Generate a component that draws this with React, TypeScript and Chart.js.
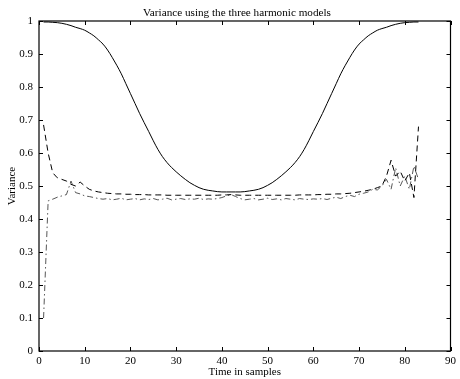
import React, { useEffect, useRef } from "react";
import { Chart, registerables } from "chart.js";

Chart.register(...registerables);

const samples = [
  1, 2, 3, 4, 5, 6, 7, 8, 9, 10, 11, 12, 13, 14, 15, 16, 17, 18, 19, 20,
  21, 22, 23, 24, 25, 26, 27, 28, 29, 30, 31, 32, 33, 34, 35, 36, 37, 38, 39, 40,
  41, 42, 43, 44, 45, 46, 47, 48, 49, 50, 51, 52, 53, 54, 55, 56, 57, 58, 59, 60,
  61, 62, 63, 64, 65, 66, 67, 68, 69, 70, 71, 72, 73, 74, 75, 76, 77, 78, 79, 80,
  81, 82, 83,
];

// solid line
const modelSolid = [
  0.997, 0.997, 0.996, 0.995, 0.993, 0.99, 0.986, 0.981, 0.977, 0.972,
  0.964, 0.955, 0.943, 0.93, 0.912, 0.89, 0.866, 0.84, 0.81, 0.78,
  0.75, 0.72, 0.692, 0.665, 0.637, 0.611, 0.589, 0.571, 0.556, 0.543,
  0.531, 0.52, 0.51, 0.502, 0.495, 0.49, 0.487, 0.485, 0.483, 0.482,
  0.482, 0.482, 0.482, 0.482, 0.483, 0.485, 0.487, 0.49, 0.495, 0.502,
  0.51, 0.52, 0.531, 0.543, 0.556, 0.571, 0.589, 0.611, 0.637, 0.665,
  0.692, 0.72, 0.75, 0.78, 0.81, 0.84, 0.866, 0.89, 0.912, 0.93,
  0.943, 0.955, 0.964, 0.972, 0.977, 0.981, 0.986, 0.99, 0.993, 0.995,
  0.996, 0.997, 0.997,
];

// dashed line
const modelDashed = [
  0.685, 0.6, 0.54, 0.525, 0.52, 0.515, 0.505, 0.5, 0.512, 0.5,
  0.49, 0.485, 0.482, 0.48, 0.478, 0.477, 0.476, 0.476, 0.475, 0.475,
  0.474, 0.474, 0.474, 0.473, 0.473, 0.473, 0.473, 0.472, 0.472, 0.472,
  0.472, 0.472, 0.472, 0.472, 0.472, 0.472, 0.472, 0.472, 0.472, 0.473,
  0.473, 0.474, 0.473, 0.472, 0.472, 0.472, 0.472, 0.472, 0.472, 0.472,
  0.472, 0.472, 0.472, 0.472, 0.472, 0.472, 0.473, 0.473, 0.473, 0.473,
  0.474, 0.474, 0.475, 0.475, 0.476, 0.476, 0.477, 0.478, 0.48, 0.482,
  0.484, 0.487, 0.49, 0.495, 0.5, 0.53, 0.578, 0.53, 0.545, 0.515,
  0.54, 0.465, 0.68,
];

// dash-dot line
const modelDashDot = [
  0.1, 0.455, 0.46, 0.466, 0.47, 0.474, 0.515, 0.48, 0.476, 0.47,
  0.468, 0.465, 0.462, 0.46, 0.462, 0.458, 0.46, 0.463, 0.458, 0.46,
  0.462, 0.458, 0.461, 0.459, 0.462, 0.458, 0.46, 0.463, 0.458, 0.46,
  0.462, 0.459, 0.461, 0.46, 0.463, 0.459, 0.461, 0.46, 0.462, 0.465,
  0.47, 0.474, 0.468, 0.462, 0.458, 0.46, 0.462, 0.458, 0.46, 0.463,
  0.459, 0.461, 0.458, 0.462, 0.46, 0.458, 0.462, 0.46, 0.459, 0.461,
  0.46, 0.462, 0.459, 0.463, 0.466, 0.462, 0.468, 0.472, 0.468, 0.475,
  0.478, 0.482, 0.49, 0.488, 0.5, 0.52, 0.49, 0.555, 0.5, 0.53,
  0.49, 0.56, 0.52,
];

const xTickLabels = ["0", "10", "20", "30", "40", "50", "60", "70", "80", "90"];
const yTickLabels = ["0", "0.1", "0.2", "0.3", "0.4", "0.5", "0.6", "0.7", "0.8", "0.9", "1"];
const chartTitle = "Variance using the three harmonic models";

const FONT = "'Liberation Serif', 'Times New Roman', serif";

const framePlugin = {
  id: "matlabFrame",
  afterDatasetsDraw(chart: any) {
    const { ctx, chartArea, scales } = chart;
    const { left, right, top, bottom } = chartArea;
    const tl = 4;
    ctx.save();
    ctx.strokeStyle = "#000";
    ctx.lineWidth = 1.2;
    ctx.strokeRect(left, top, right - left, bottom - top);
    ctx.lineWidth = 1;
    ctx.beginPath();
    scales.x.ticks.forEach((t: any) => {
      const px = Math.round(scales.x.getPixelForValue(t.value)) + 0.5;
      ctx.moveTo(px, bottom);
      ctx.lineTo(px, bottom - tl);
      ctx.moveTo(px, top);
      ctx.lineTo(px, top + tl);
    });
    scales.y.ticks.forEach((t: any) => {
      const py = Math.round(scales.y.getPixelForValue(t.value)) + 0.5;
      ctx.moveTo(left, py);
      ctx.lineTo(left + tl, py);
      ctx.moveTo(right, py);
      ctx.lineTo(right - tl, py);
    });
    ctx.stroke();
    // title
    ctx.fillStyle = "#000";
    ctx.font = `11.2px ${FONT}`;
    ctx.textAlign = "center";
    ctx.textBaseline = "middle";
    ctx.fillText(chartTitle, 237, 13);
    ctx.restore();
  },
};

export default function App() {
  const canvasRef = useRef<HTMLCanvasElement | null>(null);

  useEffect(() => {
    if (!canvasRef.current) return;
    const mk = (vals: number[]) => samples.map((x, i) => ({ x, y: vals[i] }));
    const chart = new Chart(canvasRef.current, {
      type: "line",
      data: {
        datasets: [
          {
            label: "solid",
            data: mk(modelSolid),
            borderColor: "#000",
            borderWidth: 1,
            pointRadius: 0,
            cubicInterpolationMode: "monotone",
            fill: false,
          },
          {
            label: "dashed",
            data: mk(modelDashed),
            borderColor: "#000",
            borderWidth: 1,
            borderDash: [6, 4],
            pointRadius: 0,
            tension: 0,
            fill: false,
          },
          {
            label: "dashdot",
            data: mk(modelDashDot),
            borderColor: "#444",
            borderWidth: 0.9,
            borderDash: [6, 3, 1.5, 3],
            pointRadius: 0,
            tension: 0,
            fill: false,
          },
        ],
      },
      options: {
        animation: false,
        responsive: true,
        maintainAspectRatio: false,
        layout: { padding: { right: 7, left: 0, top: 21, bottom: 0 } },
        plugins: {
          legend: { display: false },
          tooltip: { enabled: false },
          title: { display: false },
        },
        scales: {
          x: {
            type: "linear",
            min: 0,
            max: 90,
            grid: { display: false, drawTicks: false },
            border: { display: false },
            ticks: {
              stepSize: 10,
              autoSkip: false,
              maxRotation: 0,
              padding: 4,
              color: "#000",
              font: { family: FONT, size: 11 },
              callback: (_v: any, i: number) => xTickLabels[i],
            },
            title: {
              display: true,
              text: "Time in samples",
              color: "#000",
              font: { family: FONT, size: 11 },
              padding: { top: 0, bottom: 0 },
            },
            afterFit: (s: any) => {
              s.height = 28;
            },
          },
          y: {
            type: "linear",
            min: 0,
            max: 1,
            grid: { display: false, drawTicks: false },
            border: { display: false },
            ticks: {
              stepSize: 0.1,
              autoSkip: false,
              padding: 6,
              color: "#000",
              font: { family: FONT, size: 11 },
              callback: (_v: any, i: number) => yTickLabels[i],
            },
            title: {
              display: true,
              text: "Variance",
              color: "#000",
              font: { family: FONT, size: 11 },
              padding: { top: 6, bottom: 0 },
            },
            afterFit: (s: any) => {
              s.width = 39;
            },
          },
        },
      },
      plugins: [framePlugin],
    });
    return () => chart.destroy();
  }, []);

  return (
    <div
      style={{
        position: "fixed",
        left: 0,
        top: 0,
        width: 460,
        height: 379,
        background: "#fff",
      }}
    >
      <canvas ref={canvasRef} />
    </div>
  );
}
